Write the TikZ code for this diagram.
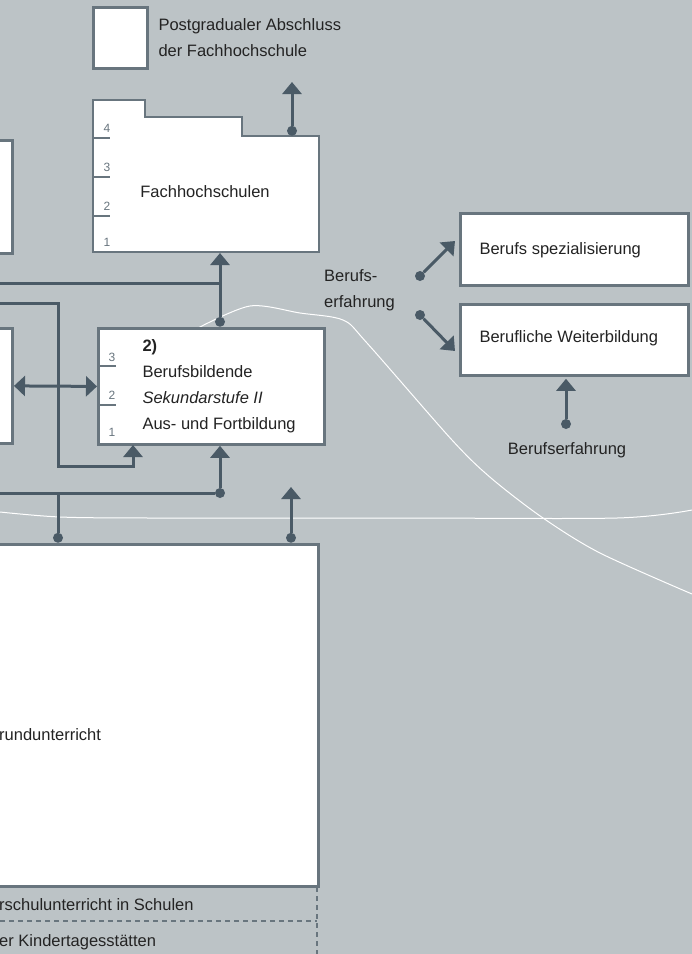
\documentclass[tikz,border=0pt]{standalone}
\usepackage{fontspec}
\setmainfont{Liberation Sans}
\usetikzlibrary{arrows.meta,positioning}

\definecolor{bggray}{RGB}{188,195,198}
\definecolor{boxline}{RGB}{104,117,126}
\definecolor{arrowgray}{RGB}{74,90,102}
\definecolor{txt}{RGB}{35,35,35}

\tikzset{
  box/.style={draw=boxline, line width=2.8pt, fill=white, inner sep=0pt},
  conn/.style={draw=arrowgray, line width=3pt},
  arr/.style={conn, -{Triangle[width=19pt,length=12pt]}},
  darr/.style={conn, {Triangle[width=20pt,length=11pt]}-{Triangle[width=20pt,length=11pt]}},
  dot/.style={circle, fill=arrowgray, inner sep=0pt, minimum size=10pt},
  lvl/.style={text=boxline, font=\fontsize{12}{12}\selectfont, inner sep=0pt},
  tick/.style={draw=boxline, line width=2.5pt},
  wave/.style={draw=white, line width=1pt},
}

\begin{document}
\begin{tikzpicture}[x=1pt,y=-1pt,font=\fontsize{16.5}{26}\selectfont,text=txt]
  \fill[bggray] (0,0) rectangle (692,954);
  \useasboundingbox (0,0) rectangle (692,954);

  % white waves
  \draw[wave] plot[smooth] coordinates {(198,328) (250,306) (300,313) (343,320) (367,343) (452,440) (491,478) (543,518) (600,553) (692,594)};
  \draw[wave] plot[smooth] coordinates {(0,512) (60,517) (150,518) (400,518) (617,518) (692,510)};

  % legend
  \node[box, anchor=north west, minimum width=54pt, minimum height=61pt] (legend) at (92,6) {};
  \node[anchor=west, align=left] (legtxt) at (155,38) {Postgradualer Abschluss\\der Fachhochschule};

  % Fachhochschulen
  \draw[box] (93,100) -- (145,100) -- (145,117) -- (242,117) -- (242,136) -- (319,136) -- (319,252) -- (93,252) -- cycle;
  \foreach \y in {138,177,216} \draw[tick] (93,\y) -- (110,\y);
  \foreach \n/\y in {4/128,3/167,2/206,1/242} \node[lvl] (fhl\n) at (107,\y) {\n};
  \node (fh) at (205,192) {Fachhochschulen};
  \coordinate (fhin) at (220,253);
  \coordinate (fhout) at (292,82);

  % left boxes, cut off
  \node[box, anchor=north east, minimum width=30pt, minimum height=113pt] (lefta) at (14,139) {};
  \node[box, anchor=north east, minimum width=30pt, minimum height=115pt] (leftb) at (14,327) {};

  % 2) berufsbildende Sekundarstufe II
  \node[box, anchor=north west, minimum width=226pt, minimum height=116pt] (ausb) at (97,327) {};
  \foreach \y in {366,405} \draw[tick] (97,\y) -- (116,\y);
  \foreach \n/\y in {3/357,2/395,1/432} \node[lvl] (ausl\n) at (112,\y) {\n};
  \node[anchor=west, align=left] (ausbtxt) at (139,386) {\textbf{2)}\\Berufsbildende\\\textit{Sekundarstufe II}\\Aus- und Fortbildung};

  % big box
  \node[box, anchor=north east, minimum width=340pt, minimum height=342pt] (grund) at (320,543) {};
  \node[anchor=west, inner sep=0pt] (grundtxt) at (-1,735) {rundunterricht};

  % dashed levels below
  \draw[boxline, dashed, dash pattern=on 5pt off 4pt, line width=2pt] (317,887) -- (317,954);
  \draw[boxline, dashed, dash pattern=on 5pt off 4pt, line width=2pt] (0,921) -- (317,921);
  \node[anchor=west, inner sep=0pt] (vors) at (-1,905) {rschulunterricht in Schulen};
  \node[anchor=west, inner sep=0pt] (kita) at (-1,942) {er Kindertagesstätten};

  % right side
  \node[box, anchor=north west, minimum width=228pt, minimum height=72pt] (spez) at (459,212) {};
  \node[anchor=west] (speztxt) at (476,250) {Berufs spezialisierung};
  \node[box, anchor=north west, minimum width=228pt, minimum height=71pt] (weiter) at (459,303) {};
  \node[anchor=west] (weitertxt) at (476,338) {Berufliche Weiterbildung};
  \node[anchor=west, align=left, inner sep=0pt] (erf1) at (324,290) {Berufs-\\erfahrung};
  \node (erf2) at (567,450) {Berufserfahrung};

  % dots
  \node[dot, anchor=south] (d1) at (292,136) {};
  \node[dot, anchor=south] (d2) at (220,327) {};
  \node[dot] (d3) at (220,493) {};
  \node[dot, anchor=south] (d4) at (58,543) {};
  \node[dot, anchor=south] (d8) at (291,543) {};
  \node[dot] (d5) at (420,276) {};
  \node[dot] (d6) at (420,315) {};
  \node[dot] (d7) at (566,424) {};

  % connectors
  \coordinate (l1) at (-2,283);
  \coordinate (l2) at (-2,303);
  \coordinate (l3) at (-2,493);
  \coordinate (ausbin) at (133,445);
  \coordinate (up2) at (291,487);
  \coordinate (t1) at (455,241);
  \coordinate (t2) at (455,351);
  \draw[arr] (d1) -- (fhout);
  \draw[arr] (d2) -- (fhin);
  \draw[conn] (l1) -- (l1 -| d2);
  \draw[arr] (l2) -| (58,466) -| (ausbin);
  \draw[darr] (leftb.east) -- (ausb.west);
  \draw[conn] (l3) -- (d3);
  \draw[arr] (d3) -- (ausb.south -| d3);
  \draw[conn] (d4) -- (d4 |- l3);
  \draw[arr] (d8) -- (up2);
  \draw[arr] (d5) -- (t1);
  \draw[arr] (d6) -- (t2);
  \draw[arr, shorten >=2pt] (d7) -- (weiter.south -| d7);
\end{tikzpicture}
\end{document}
